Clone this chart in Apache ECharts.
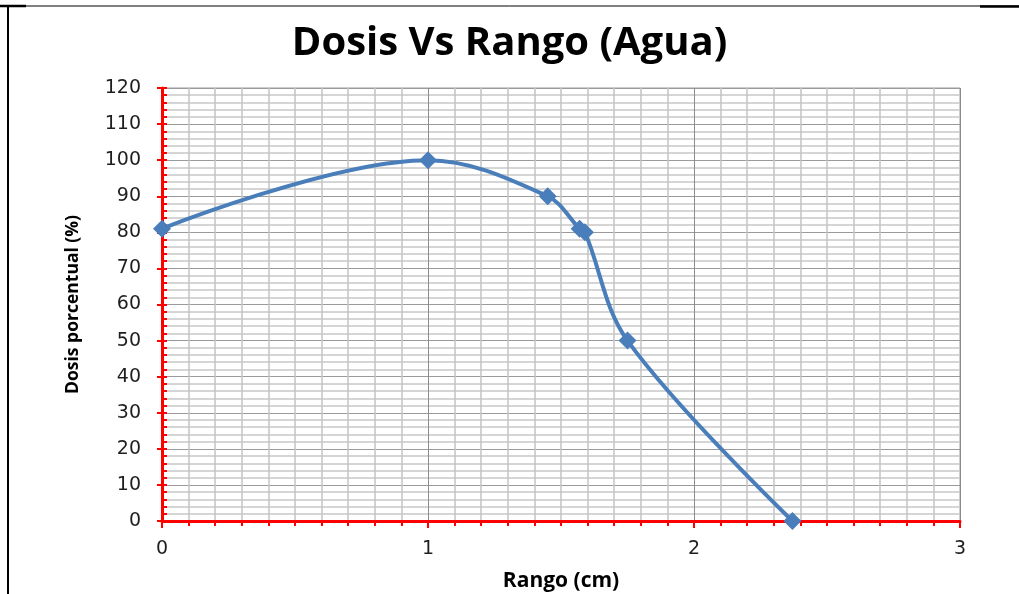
<!DOCTYPE html>
<html>
<head>
<meta charset="utf-8">
<script src="https://cdn.jsdelivr.net/npm/echarts@6/dist/echarts.min.js"></script>
<style>html,body{margin:0;padding:0;background:#fff;}#c{width:1019px;height:594px;}</style>
</head>
<body>
<div id="c"></div>
<script>
const title = 'Dosis Vs Rango (Agua)';
const xName = 'Rango (cm)';
const yName = 'Dosis porcentual (%)';
const rango = [0, 1, 1.45, 1.57, 1.59, 1.75, 2.37];
const dosis = [81, 100, 90, 81, 80, 50, 0];

const chart = echarts.init(document.getElementById('c'), null, {renderer: 'canvas'});
const labelFont = {fontFamily: 'DejaVu Sans', fontSize: 19, color: '#1e1e1e'};
const gridRect = {left: 162, right: 59, top: 88, bottom: 73};
chart.setOption({
  backgroundColor: '#ffffff',
  animation: false,
  title: {
    text: title, left: 'center', top: 19,
    textStyle: {fontFamily: 'Open Sans', fontWeight: 'bold', fontSize: 40, color: '#000'}
  },
  grid: Object.assign({show: true, borderColor: '#9a9a9a', borderWidth: 1, containLabel: false, outerBoundsMode: 'none'}, gridRect),
  xAxis: [{
    type: 'value', min: 0, max: 3, interval: 1,
    name: xName, nameLocation: 'middle', nameGap: 50,
    nameTextStyle: {fontFamily: 'Open Sans', fontWeight: 'bold', fontSize: 21, color: '#000'},
    axisLine: {show: true, onZero: false, lineStyle: {color: '#ff0000', width: 3}},
    axisTick: {show: true, length: 7, lineStyle: {color: '#ff0000', width: 2}},
    minorTick: {show: true, splitNumber: 10, length: 5, lineStyle: {color: '#ff0000', width: 2}},
    axisLabel: Object.assign({margin: 19}, labelFont),
    splitLine: {show: true, lineStyle: {color: '#8c8c8c', width: 1}},
    minorSplitLine: {show: true, lineStyle: {color: '#c4c4c4', width: 1.5}}
  }],
  yAxis: [{
    type: 'value', min: 0, max: 120, interval: 10,
    name: yName, nameLocation: 'middle', nameGap: 80, nameRotate: 90,
    nameTextStyle: {fontFamily: 'Open Sans', fontWeight: 'bold', fontSize: 17.5, color: '#000'},
    axisLine: {show: true, onZero: false, lineStyle: {color: '#ff0000', width: 3}},
    axisTick: {show: true, inside: true, length: 5, lineStyle: {color: '#ff0000', width: 2}},
    minorTick: {show: true, splitNumber: 5, length: 5, lineStyle: {color: '#ff0000', width: 2}},
    axisLabel: Object.assign({margin: 21}, labelFont),
    splitLine: {show: true, lineStyle: {color: '#9a9a9a', width: 1}},
    minorSplitLine: {show: true, lineStyle: {color: '#c8c8c8', width: 1.5}}
  }, {
    type: 'value', min: 0, max: 120, interval: 10, position: 'left',
    axisLine: {show: false},
    axisTick: {show: true, length: 5, lineStyle: {color: '#ff0000', width: 2}},
    axisLabel: {show: false},
    splitLine: {show: false}
  }],
  series: [{
    type: 'line',
    data: rango.map((x, i) => [x, dosis[i]]),
    smooth: 0.35,
    symbol: 'diamond', symbolSize: 18,
    itemStyle: {color: '#4a7ebb'},
    lineStyle: {color: '#4a7ebb', width: 4},
    z: 5
  }],
  graphic: [
    {type: 'line', shape: {x1: 0, y1: 6, x2: 1019, y2: 6}, style: {stroke: '#000', lineWidth: 1}},
    {type: 'line', shape: {x1: 0, y1: 6, x2: 26, y2: 6}, style: {stroke: '#000', lineWidth: 2.5}},
    {type: 'line', shape: {x1: 980, y1: 6.5, x2: 1019, y2: 6.5}, style: {stroke: '#000', lineWidth: 2.5}},
    {type: 'line', shape: {x1: 8, y1: 6, x2: 8, y2: 594}, style: {stroke: '#000', lineWidth: 2}}
  ]
});
</script>
</body>
</html>
